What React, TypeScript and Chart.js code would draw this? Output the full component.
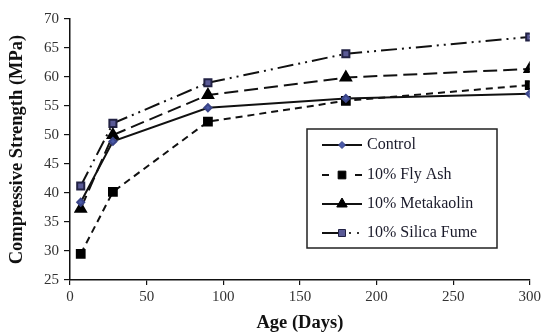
import React, { useEffect, useRef } from "react";
import { Chart, registerables } from "chart.js";

Chart.register(...registerables);

const ageDays = [7, 28, 90, 180, 300];
const seriesNames = ["Control", "10% Fly Ash", "10% Metakaolin", "10% Silica Fume"];
const controlValues = [38.4, 48.9, 54.7, 56.3, 57.1];
const flyAshValues = [29.5, 40.2, 52.3, 55.9, 58.6];
const metakaolinValues = [37.3, 50.0, 56.9, 59.9, 61.4];
const silicaFumeValues = [41.2, 52.0, 59.0, 64.0, 66.9];
const yTicks = [25, 30, 35, 40, 45, 50, 55, 60, 65, 70];
const xTicks = [0, 50, 100, 150, 200, 250, 300];

const SERIF = "'Liberation Serif', 'Times New Roman', serif";

const toPts = (vals: number[]) => vals.map((v, i) => ({ x: ageDays[i], y: v }));

const legendPlugin = {
  id: "boxLegend",
  afterDraw(chart: any) {
    const ctx = chart.ctx;
    const bx = 307, by = 129, bw = 190, bh = 119;
    ctx.save();
    ctx.fillStyle = "#fff";
    ctx.fillRect(bx, by, bw, bh);
    ctx.strokeStyle = "#222";
    ctx.lineWidth = 1.5;
    ctx.strokeRect(bx, by, bw, bh);
    const rowY = [145, 175, 204, 233];
    const x0 = 322, x1 = 362, xm = 342;
    chart.data.datasets.forEach((ds: any, i: number) => {
      const y = rowY[i];
      ctx.strokeStyle = "#111";
      ctx.lineWidth = 2;
      ctx.setLineDash([]);
      ctx.beginPath();
      if (i === 1) {
        ctx.moveTo(x0, y); ctx.lineTo(x0 + 7, y);
        ctx.moveTo(x1 - 7, y); ctx.lineTo(x1, y);
      } else if (i === 3) {
        ctx.moveTo(x0, y); ctx.lineTo(xm, y);
      } else {
        ctx.moveTo(x0, y); ctx.lineTo(x1, y);
      }
      ctx.stroke();
      if (i === 3) {
        ctx.fillStyle = "#333";
        ctx.fillRect(349, y - 1, 2, 2);
        ctx.fillRect(357, y - 1, 2, 2);
      }
      ctx.fillStyle = ds.pointBackgroundColor;
      ctx.strokeStyle = ds.pointBorderColor;
      ctx.lineWidth = 1;
      const r = ds.pointRadius;
      ctx.beginPath();
      if (ds.pointStyle === "rectRot") {
        ctx.moveTo(xm, y - r); ctx.lineTo(xm + r, y); ctx.lineTo(xm, y + r); ctx.lineTo(xm - r, y); ctx.closePath();
      } else if (ds.pointStyle === "triangle") {
        ctx.moveTo(xm, y - r); ctx.lineTo(xm + r * 0.87, y + r * 0.5); ctx.lineTo(xm - r * 0.87, y + r * 0.5); ctx.closePath();
      } else {
        const s = r * 0.7;
        ctx.rect(xm - s, y - s, 2 * s, 2 * s);
      }
      ctx.fill();
      ctx.stroke();
      ctx.fillStyle = "#1a1a2a";
      ctx.font = `16px ${SERIF}`;
      ctx.textBaseline = "middle";
      ctx.textAlign = "left";
      ctx.fillText(ds.label, 367, y);
    });
    ctx.restore();
  },
};

export default function App() {
  const ref = useRef<HTMLCanvasElement>(null);
  useEffect(() => {
    document.body.style.margin = "0";
    const chart = new Chart(ref.current!, {
      type: "line",
      data: {
        datasets: [
          {
            label: seriesNames[0],
            data: toPts(controlValues),
            borderColor: "#111",
            borderWidth: 2,
            pointStyle: "rectRot",
            pointRadius: 3.5,
            pointBackgroundColor: "#4a5aa8",
            pointBorderColor: "#3a4488",
          },
          {
            label: seriesNames[1],
            data: toPts(flyAshValues),
            borderColor: "#111",
            borderWidth: 2,
            borderDash: [7, 5],
            pointStyle: "rect",
            pointRadius: 5.5,
            pointBackgroundColor: "#000",
            pointBorderColor: "#000",
          },
          {
            label: seriesNames[2],
            data: toPts(metakaolinValues),
            borderColor: "#111",
            borderWidth: 2,
            borderDash: [14, 6],
            pointStyle: "triangle",
            pointRadius: 6,
            pointBackgroundColor: "#000",
            pointBorderColor: "#000",
          },
          {
            label: seriesNames[3],
            data: toPts(silicaFumeValues),
            borderColor: "#111",
            borderWidth: 2,
            borderDash: [16, 5, 2, 5, 2, 5],
            pointStyle: "rect",
            pointRadius: 5,
            pointBackgroundColor: "#5a5a96",
            pointBorderColor: "#222244",
          },
        ] as any,
      },
      options: {
        animation: false,
        responsive: false,
        layout: { padding: { left: 0, top: 19, right: 14, bottom: 0 } },
        plugins: { legend: { display: false }, tooltip: { enabled: false } },
        scales: {
          x: {
            type: "linear",
            min: 0,
            max: 300,
            afterBuildTicks: (s: any) => { s.ticks = xTicks.map((v) => ({ value: v })); },
            afterFit: (s: any) => { s.height = 54; },
            border: { color: "#111", width: 1.5 },
            grid: { drawOnChartArea: false, color: "#111", tickLength: 5, lineWidth: 1.2 },
            ticks: { color: "#333", font: { family: SERIF, size: 15 }, padding: 3, maxRotation: 0 },
            title: {
              display: true,
              text: "Age (Days)",
              color: "#111",
              font: { family: SERIF, size: 18.5, weight: "bold" },
              padding: { top: 0, bottom: 0 },
            },
          },
          y: {
            min: 25,
            max: 70,
            afterBuildTicks: (s: any) => { s.ticks = yTicks.map((v) => ({ value: v })); },
            afterFit: (s: any) => { s.width = 70; },
            border: { color: "#111", width: 1.5 },
            grid: { drawOnChartArea: false, color: "#111", tickLength: 6, lineWidth: 1.2 },
            ticks: { color: "#333", font: { family: SERIF, size: 15 }, padding: 5 },
            title: {
              display: true,
              text: "Compressive Strength (MPa)",
              color: "#111",
              font: { family: SERIF, size: 18.5, weight: "bold" },
              padding: { top: 6, bottom: 0 },
            },
          },
        },
      } as any,
      plugins: [legendPlugin],
    });
    return () => chart.destroy();
  }, []);
  return (
    <div style={{ width: 544, height: 334 }}>
      <canvas ref={ref} width={544} height={334} style={{ display: "block" }} />
    </div>
  );
}
